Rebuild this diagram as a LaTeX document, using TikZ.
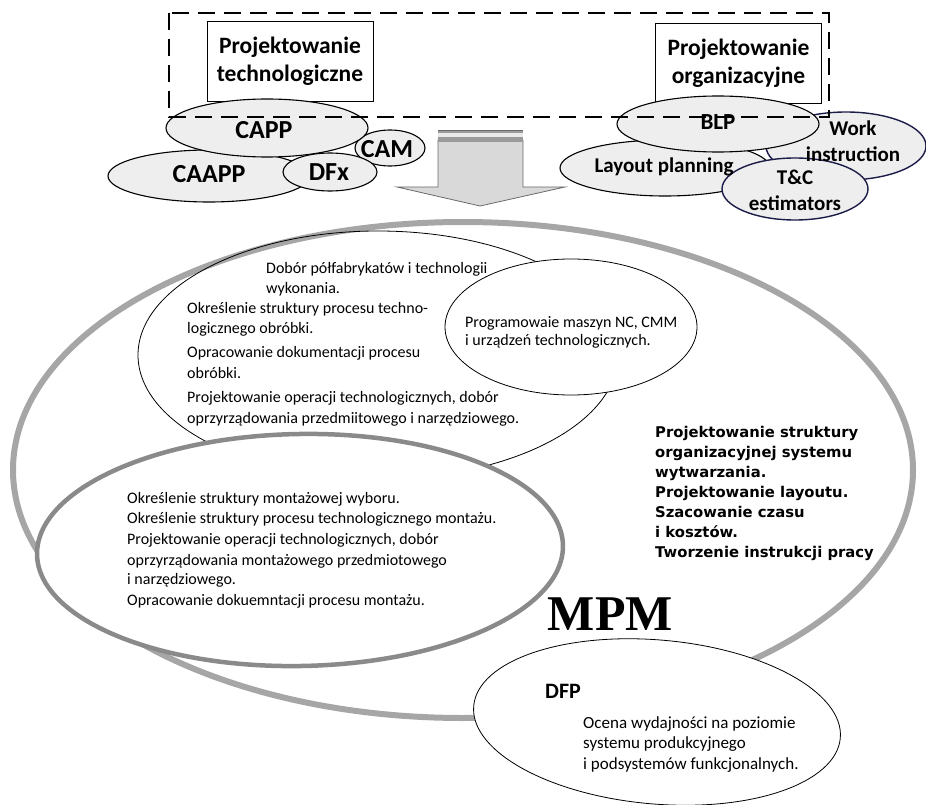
\documentclass[tikz,border=0pt]{standalone}
\usepackage{fontspec}
\setmainfont{Carlito}
\newfontfamily\verdfont{DejaVu Sans}
\newfontfamily\timesfont{Liberation Serif}

\definecolor{tagfill}{HTML}{EEEEEE}
\definecolor{outergray}{HTML}{A6A6A6}
\definecolor{asmgray}{HTML}{8A8A8A}
\definecolor{navyline}{HTML}{1C1C48}
\definecolor{arrowfill}{HTML}{D9D9D9}
\definecolor{arrowline}{HTML}{6A6A6A}
\definecolor{arrowband}{HTML}{9A9A9A}

\begin{document}
\begin{tikzpicture}[x=1pt,y=-1pt,
  tagshape/.style={draw=black, line width=1.1pt, fill=tagfill},
  navyshape/.style={draw=navyline, line width=1.4pt, fill=tagfill},
  taglabel/.style={font=\bfseries\fontsize{21}{26}\selectfont, align=center, inner sep=0pt},
  biglabel/.style={font=\bfseries\fontsize{26}{28}\selectfont, align=center, inner sep=0pt},
  topbox/.style={draw=black, line width=0.8pt, fill=white, minimum width=166, minimum height=80,
    font=\bfseries\fontsize{23.5}{28}\selectfont, align=center, inner sep=0pt},
  bodyline/.style={font=\fontsize{16}{19}\selectfont, inner sep=0pt, anchor=base west},
  dfpline/.style={font=\fontsize{17}{20}\selectfont, inner sep=0pt, anchor=base west},
  orgline/.style={font=\verdfont\bfseries\fontsize{14.8}{19}\selectfont, inner sep=0pt, anchor=base west},
  thinshape/.style={draw=black, line width=0.8pt}
]
\useasboundingbox (0,0) rectangle (926,805);

% --- MPM frame and the inner areas ---
\draw[outergray, line width=6pt] (463,470) ellipse [x radius=450, y radius=248];
\draw[thinshape] (378,355) ellipse [x radius=240, y radius=124];
\draw[thinshape, fill=white] (571,327) ellipse [x radius=126, y radius=68];
\draw[asmgray, line width=4.5pt, fill=white, rotate around={1:(300,550)}] (300,550) ellipse [x radius=263, y radius=116];
\draw[thinshape, fill=white, rotate around={-5:(657,722)}] (657,722) ellipse [x radius=184, y radius=82];

% --- machining process design ---
\node[bodyline] (t1) at (266,273) {Dobór półfabrykatów i technologii};
\node[bodyline] (t2) at (266,293) {wykonania.};
\node[bodyline] (t3) at (187,313) {Określenie struktury procesu techno-};
\node[bodyline] (t4) at (187,333) {logicznego obróbki.};
\node[bodyline] (t5) at (187,357) {Opracowanie dokumentacji procesu};
\node[bodyline] (t6) at (187,378) {obróbki.};
\node[bodyline] (t7) at (187,402) {Projektowanie operacji technologicznych, dobór};
\node[bodyline] (t8) at (187,423) {oprzyrządowania przedmiitowego i narzędziowego.};

% --- NC programming ---
\node[bodyline] (nc1) at (465,327) {Programowaie maszyn NC, CMM};
\node[bodyline] (nc2) at (465,345) {i urządzeń technologicznych.};

% --- assembly process design ---
\node[bodyline] (a1) at (127,503) {Określenie struktury montażowej wyboru.};
\node[bodyline] (a2) at (127,523) {Określenie struktury procesu technologicznego montażu.};
\node[bodyline] (a3) at (127,544) {Projektowanie operacji technologicznych, dobór};
\node[bodyline] (a4) at (127,565) {oprzyrządowania montażowego przedmiotowego};
\node[bodyline] (a5) at (127,584) {i narzędziowego.};
\node[bodyline] (a6) at (127,605) {Opracowanie dokuemntacji procesu montażu.};

% --- organisational design ---
\node[orgline] (o1) at (655,437) {Projektowanie struktury};
\node[orgline] (o2) at (655,457) {organizacyjnej systemu};
\node[orgline] (o3) at (655,477) {wytwarzania.};
\node[orgline] (o4) at (655,497) {Projektowanie layoutu.};
\node[orgline] (o5) at (655,517) {Szacowanie czasu};
\node[orgline] (o6) at (655,537) {i kosztów.};
\node[orgline] (o7) at (655,557) {Tworzenie instrukcji pracy};

\node[font=\timesfont\bfseries\fontsize{50}{52}\selectfont, inner sep=0pt, anchor=base east] (mpm) at (673,630) {MPM};

% --- DFP ---
\node[font=\bfseries\fontsize{22}{24}\selectfont, inner sep=0pt, anchor=base west] (dfp) at (545,698) {DFP};
\node[dfpline] (d1) at (583,728) {Ocena wydajności na poziomie};
\node[dfpline] (d2) at (583,748) {systemu produkcyjnego};
\node[dfpline] (d3) at (583,769) {i podsystemów funkcjonalnych.};

% --- technological design group ---
\node[topbox] (ptech) at (290,61.5) {Projektowanie\\technologiczne};
\draw[tagshape] (390,148) ellipse [x radius=35, y radius=18];
\draw[tagshape] (209,176) ellipse [x radius=101, y radius=26];
\draw[tagshape] (267,128) ellipse [x radius=101, y radius=29];
\draw[tagshape] (330,172) ellipse [x radius=47, y radius=19];
\node[biglabel] (capp) at (264,130) {CAPP};
\node[biglabel] (cam) at (387,149) {CAM};
\node[biglabel] (caapp) at (209,174) {CAAPP};
\node[biglabel] (dfx) at (329,172) {DFx};

% --- organisational design group ---
\node[topbox] (porg) at (738.5,63.5) {Projektowanie\\organizacyjne};
\draw[navyshape] (846,146) ellipse [x radius=80, y radius=34];
\draw[tagshape] (665,168) ellipse [x radius=105, y radius=28];
\draw[tagshape] (718,124) ellipse [x radius=101, y radius=28];
\draw[navyshape] (795,189) ellipse [x radius=73, y radius=31];
\node[taglabel, font=\bfseries\fontsize{23}{26}\selectfont] (blp) at (718,122) {BLP};
\node[taglabel] (wi) at (853,141) {Work\\instruction};
\node[taglabel] (lp) at (664,167) {Layout planning};
\node[taglabel] (tc) at (795,190) {T\&C\\estimators};

% --- transfer arrow ---
\draw[arrowline, line width=0.8pt, fill=arrowfill]
  (438,140) -- (523,140) -- (523,187) -- (565,187) -- (480,206) -- (397,187) -- (438,187) -- cycle;
\fill[arrowband] (438,130) rectangle (523,142);
\fill[arrowfill!60!white] (438,133.5) rectangle (523,137);
\draw[arrowline, line width=0.8pt] (438,130) -- (523,130);

% --- scope frame ---
\draw[black, line width=2pt, dash pattern=on 17pt off 9pt] (169,13) rectangle (829,117);
\end{tikzpicture}
\end{document}
